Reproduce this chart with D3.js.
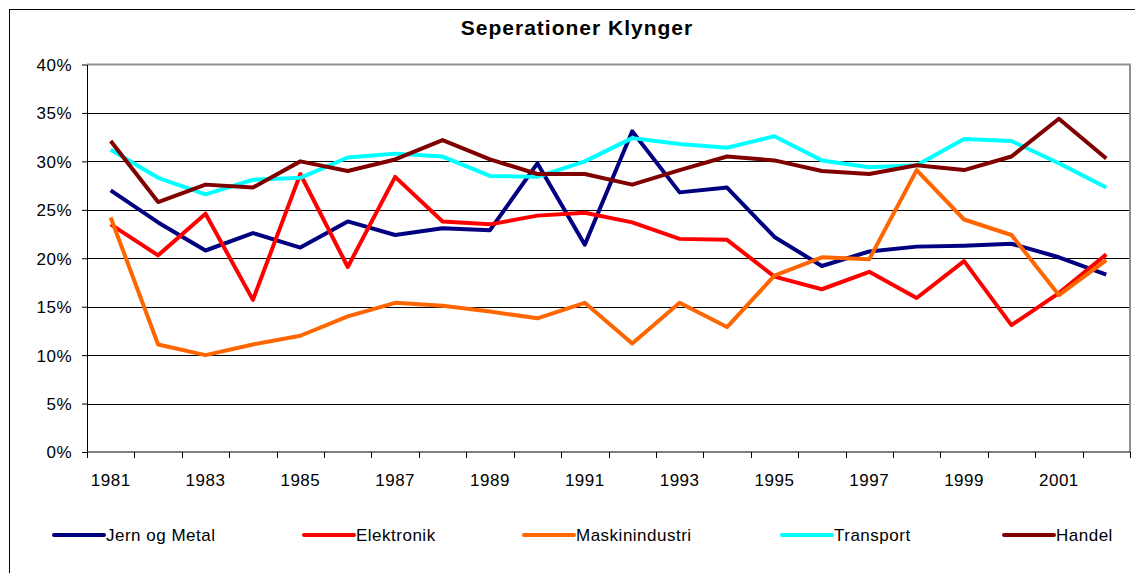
<!DOCTYPE html>
<html>
<head>
<meta charset="utf-8">
<script src="https://cdn.jsdelivr.net/npm/d3@7"></script>
<style>
    body { margin: 0; background: #fff; }
    svg { display: block; font-family: Arial, "Liberation Sans", sans-serif; }
</style>
</head>
<body>
<svg id="chart" width="1135" height="573"></svg>
<script>
// 数据
const years = [1981, 1982, 1983, 1984, 1985, 1986, 1987, 1988, 1989, 1990, 1991,
    1992, 1993, 1994, 1995, 1996, 1997, 1998, 1999, 2000, 2001, 2002];
const jernOgMetal = [27.0, 23.7, 20.8, 22.6, 21.1, 23.8, 22.4, 23.1, 22.9, 29.8, 21.4,
    33.1, 26.8, 27.3, 22.2, 19.2, 20.7, 21.2, 21.3, 21.5, 20.1, 18.3];
const elektronik = [23.5, 20.3, 24.6, 15.7, 28.7, 19.1, 28.4, 23.8, 23.5, 24.4, 24.7,
    23.7, 22.0, 21.9, 18.1, 16.8, 18.6, 15.9, 19.7, 13.1, 16.4, 20.4];
const maskinindustri = [24.2, 11.1, 10.0, 11.1, 12.0, 14.0, 15.4, 15.1, 14.5, 13.8, 15.4,
    11.2, 15.4, 12.9, 18.2, 20.1, 19.9, 29.1, 24.0, 22.4, 16.2, 19.8];
const transport = [31.2, 28.3, 26.6, 28.1, 28.3, 30.4, 30.8, 30.5, 28.5, 28.4, 30.0,
    32.4, 31.8, 31.4, 32.6, 30.1, 29.4, 29.6, 32.3, 32.1, 29.8, 27.3];
const handel = [32.1, 25.8, 27.6, 27.3, 30.0, 29.0, 30.2, 32.2, 30.2, 28.7, 28.7,
    27.6, 29.1, 30.5, 30.1, 29.0, 28.7, 29.6, 29.1, 30.5, 34.4, 30.3];
const yTicks = [0, 5, 10, 15, 20, 25, 30, 35, 40];

const series = [
    { name: "Jern og Metal", values: jernOgMetal, color: "#000080" },
    { name: "Elektronik", values: elektronik, color: "#FF0000" },
    { name: "Maskinindustri", values: maskinindustri, color: "#FF6600" },
    { name: "Transport", values: transport, color: "#00FFFF" },
    { name: "Handel", values: handel, color: "#800000" }
];

const svg = d3.select("#chart");
const plot = { left: 87, right: 1130, top: 64.5, bottom: 452 };

// 外框
svg.append("rect")
    .attr("x", 9.5).attr("y", 9.5)
    .attr("width", 1135).attr("height", 600)
    .attr("fill", "none").attr("stroke", "#000").attr("stroke-width", 1);

// 标题
svg.append("text")
    .attr("x", 577).attr("y", 35)
    .attr("text-anchor", "middle")
    .style("font-size", "21px").style("font-weight", "bold")
    .style("letter-spacing", "1px")
    .text("Seperationer Klynger");

const x = d3.scaleBand().domain(years).range([plot.left, plot.right]);
const y = d3.scaleLinear().domain([0, 40]).range([plot.bottom, plot.top]);

// 网格线
svg.append("g")
    .selectAll("line")
    .data(yTicks.filter(d => d > 0 && d < 40))
    .enter().append("line")
    .attr("x1", plot.left).attr("x2", plot.right)
    .attr("y1", d => Math.round(y(d)) + 0.5).attr("y2", d => Math.round(y(d)) + 0.5)
    .attr("stroke", "#000").attr("stroke-width", 1);

// 绘图区边框（上、右）
svg.append("path")
    .attr("d", `M${plot.left},${plot.top}H${plot.right}V${plot.bottom}`)
    .attr("fill", "none").attr("stroke", "#909090").attr("stroke-width", 2);

// y 轴
const yAxis = d3.axisLeft(y).tickValues(yTicks).tickFormat(d => d + "%").tickSize(5).tickSizeOuter(0);
const gy = svg.append("g").attr("transform", `translate(${plot.left},0)`).call(yAxis);
gy.select(".domain").attr("stroke", "#000");
gy.selectAll("text").style("font-size", "17px").style("font-family", "Arial, 'Liberation Sans', sans-serif")
    .style("letter-spacing", "0.5px")
    .attr("x", -15).attr("dy", "0.35em");

// x 轴
const gx = svg.append("g").attr("transform", `translate(0,${plot.bottom})`);
gx.append("line")
    .attr("x1", plot.left).attr("x2", plot.right)
    .attr("stroke", "#000");
gx.selectAll(".tick")
    .data(years.concat([2003]))
    .enter().append("line")
    .attr("x1", (d, i) => Math.round(plot.left + i * x.step()) + 0.5)
    .attr("x2", (d, i) => Math.round(plot.left + i * x.step()) + 0.5)
    .attr("y1", 0).attr("y2", 6)
    .attr("stroke", "#000");
gx.selectAll(".lbl")
    .data(years.filter((d, i) => i % 2 === 0))
    .enter().append("text")
    .attr("x", d => x(d) + x.bandwidth() / 2)
    .attr("y", 34)
    .attr("text-anchor", "middle")
    .style("font-size", "17px")
    .style("letter-spacing", "0.5px")
    .text(d => d);

// 折线
const line = d3.line()
    .x((d, i) => x(years[i]) + x.bandwidth() / 2)
    .y(d => y(d));

svg.append("g")
    .selectAll("path")
    .data(series)
    .enter().append("path")
    .attr("d", d => line(d.values))
    .attr("fill", "none")
    .attr("stroke", d => d.color)
    .attr("stroke-width", 4)
    .attr("stroke-linejoin", "round");

// 图例
const legendX = [54, 304, 524, 782, 1004];
const legend = svg.append("g").attr("transform", "translate(0,535)");
series.forEach((s, i) => {
    legend.append("line")
        .attr("x1", legendX[i]).attr("x2", legendX[i] + 50)
        .attr("y1", 0).attr("y2", 0)
        .attr("stroke", s.color).attr("stroke-width", 4)
        .attr("stroke-linecap", "round");
    legend.append("text")
        .attr("x", legendX[i] + 52).attr("y", 0)
        .attr("dy", "0.35em")
        .style("font-size", "17px")
        .style("letter-spacing", "0.5px")
        .text(s.name);
});
</script>
</body>
</html>
